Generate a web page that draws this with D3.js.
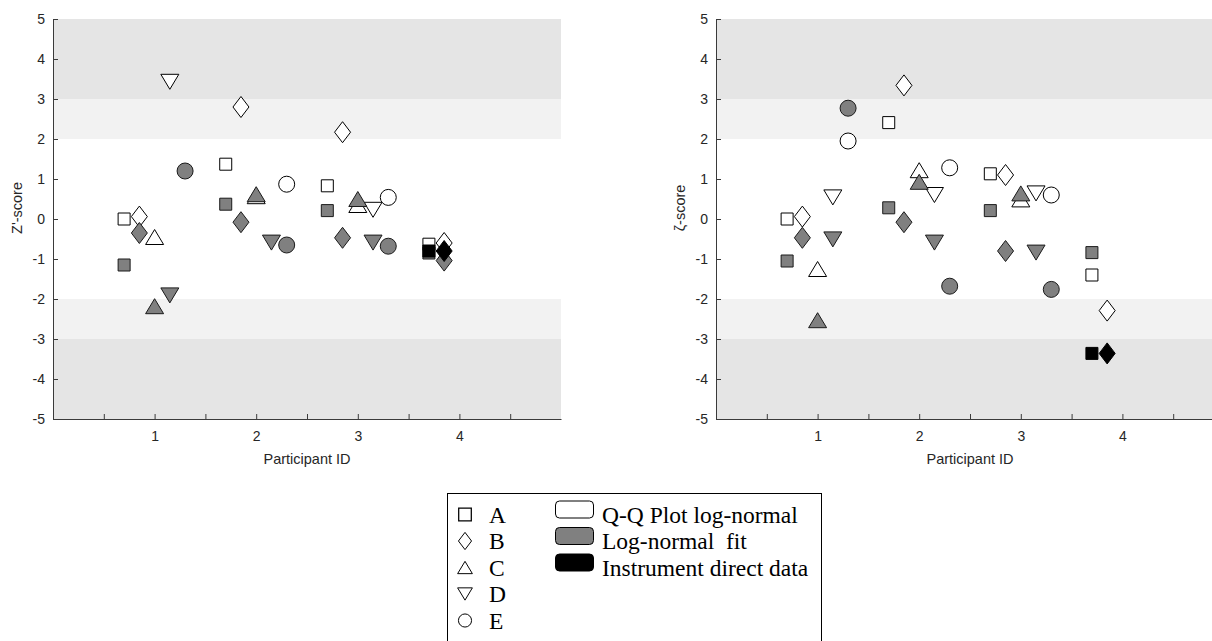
<!DOCTYPE html>
<html>
<head>
<meta charset="utf-8">
<script src="https://cdn.jsdelivr.net/npm/d3@7"></script>
<style>
  body { margin: 0; background: #fff; }
  svg { display: block; }
</style>
</head>
<body>
<script>
// participants and the five methods drawn around each participant
var participants = [1, 2, 3, 4];
var methods = ["A", "B", "C", "D", "E"];
var methodOffsets = [-0.3, -0.15, 0, 0.15, 0.3];

// Z'-score (left panel), one row per method, one value per participant
var zQQ = [[0, 1.37, 0.83, -0.63], [0.06, 2.8, 2.17, -0.6], [-0.45, 0.57, 0.35, null], [3.43, null, 0.23, null], [null, 0.87, 0.54, null]];
var zFit = [[-1.15, 0.37, 0.21, -0.85], [-0.35, -0.08, -0.47, -1.04], [-2.18, 0.62, 0.5, null], [-1.91, -0.59, -0.59, null], [1.2, -0.65, -0.68, null]];
var zDirect = [[null, null, null, -0.8], [null, null, null, -0.8], [null, null, null, null], [null, null, null, null], [null, null, null, null]];

// zeta-score (right panel)
var zetaQQ = [[0, 2.41, 1.13, -1.4], [0.06, 3.34, 1.1, -2.29], [-1.25, 1.22, 0.49, null], [0.54, 0.6, 0.64, null], [1.95, 1.28, 0.6, null]];
var zetaFit = [[-1.05, 0.28, 0.21, -0.84], [-0.47, -0.08, -0.8, null], [-2.53, 0.93, 0.64, null], [-0.51, -0.59, -0.84, null], [2.77, -1.68, -1.76, null]];
var zetaDirect = [[null, null, null, -3.36], [null, null, null, -3.36], [null, null, null, null], [null, null, null, null], [null, null, null, null]];

var yTicks = [-5, -4, -3, -2, -1, 0, 1, 2, 3, 4, 5];
var xTicks = [0.5, 1, 1.5, 2, 2.5, 3, 3.5, 4, 4.5];
var bands = [[3, 5, "#e5e5e5"], [2, 3, "#f2f2f2"], [-3, -2, "#f2f2f2"], [-5, -3, "#e5e5e5"]];

var legendSources = ["Q-Q Plot log-normal", "Log-normal  fit", "Instrument direct data"];
var sourceFills = ["#ffffff", "#808080", "#000000"];

var width = 1212, height = 641;

var svg = d3.select("body").append("svg")
  .attr("width", width)
  .attr("height", height)
  .style("font-family", "'Liberation Sans', Arial, sans-serif");

// marker shapes, fixed pixel sizes (matlab-ish)
var shapes = {
  A: { draw: function(c) { c.rect(-6, -6, 12, 12); } },
  B: { draw: function(c) { c.moveTo(0, -10.5); c.lineTo(8, 0); c.lineTo(0, 10.5); c.lineTo(-8, 0); c.closePath(); } },
  C: { draw: function(c) { c.moveTo(0, -7.5); c.lineTo(9, 7.5); c.lineTo(-9, 7.5); c.closePath(); } },
  D: { draw: function(c) { c.moveTo(0, 7.5); c.lineTo(9, -7.5); c.lineTo(-9, -7.5); c.closePath(); } },
  E: { draw: function(c) { c.moveTo(8, 0); c.arc(0, 0, 8, 0, 2 * Math.PI); } }
};

function panel(left, label, qq, fit, direct) {
  var x = d3.scaleLinear().domain([0, 5]).range([left, left + 508]);
  var y = d3.scaleLinear().domain([-5, 5]).range([419, 19]);
  var g = svg.append("g");

  g.selectAll("rect.band").data(bands).enter().append("rect")
    .attr("x", x(0)).attr("width", x(5) - x(0))
    .attr("y", function(d) { return y(d[1]); })
    .attr("height", function(d) { return y(d[0]) - y(d[1]); })
    .attr("fill", function(d) { return d[2]; });

  var yAxis = g.append("g")
    .attr("transform", "translate(" + x(0) + ",0)")
    .call(d3.axisLeft(y).tickValues(yTicks).tickSizeInner(-5).tickSizeOuter(0).tickPadding(8).tickFormat(String));
  var xAxis = g.append("g")
    .attr("transform", "translate(0," + y(-5) + ")")
    .call(d3.axisBottom(x).tickValues(xTicks).tickSizeInner(-5).tickSizeOuter(0).tickPadding(12)
      .tickFormat(function(d) { return d % 1 === 0 ? d : ""; }));
  [yAxis, xAxis].forEach(function(a) {
    a.select(".domain").attr("stroke", "#3a3a3a");
    a.selectAll(".tick line").attr("stroke", "#3a3a3a");
    a.selectAll("text").attr("fill", "#262626").style("font-size", "14px").style("font-family", "'Liberation Sans', Arial, sans-serif");
  });

  g.append("text")
    .attr("x", (x(0) + x(5)) / 2).attr("y", 464)
    .attr("text-anchor", "middle").attr("fill", "#262626").style("font-size", "14.5px")
    .text("Participant ID");
  g.append("text")
    .attr("transform", "translate(" + (x(0) - 36) + ",208) rotate(-90)")
    .attr("text-anchor", "middle").attr("dy", "0.35em").attr("fill", "#262626").style("font-size", "14.5px")
    .text(label);

  // open first, then grey, then black on top
  [qq, fit, direct].forEach(function(series, s) {
    var pts = [];
    series.forEach(function(row, m) {
      row.forEach(function(v, p) {
        if (v !== null) pts.push({ m: methods[m], x: participants[p] + methodOffsets[m], v: v });
      });
    });
    g.selectAll("path.s" + s).data(pts).enter().append("path")
      .attr("transform", function(d) { return "translate(" + x(d.x) + "," + y(d.v) + ")"; })
      .attr("d", function(d) { return d3.symbol().type(shapes[d.m])(); })
      .attr("fill", sourceFills[s])
      .attr("stroke", s === 1 ? "#1a1a1a" : "#000")
      .attr("stroke-width", 1);
  });
}

panel(53, "Z'-score", zQQ, zFit, zDirect);
panel(716, "\u03B6-score", zetaQQ, zetaFit, zetaDirect);

// legend
var lg = svg.append("g").style("font-family", "'Liberation Serif', 'Times New Roman', serif");
lg.append("rect").attr("x", 447.5).attr("y", 493.5).attr("width", 374).attr("height", 200)
  .attr("fill", "#fff").attr("stroke", "#000");

var rowY = d3.scaleLinear().domain([0, 1]).range([514.5, 541]);

methods.forEach(function(m, i) {
  lg.append("path")
    .attr("transform", "translate(465," + rowY(i) + ") scale(" + (m === "A" ? 1.05 : 0.82) + ")")
    .attr("d", d3.symbol().type(shapes[m])())
    .attr("fill", "none").attr("stroke", "#000").attr("stroke-width", 1.2);
  lg.append("text").attr("x", 489).attr("y", rowY(i)).attr("dy", "0.35em")
    .style("font-size", "23.5px").text(m);
});

legendSources.forEach(function(t, i) {
  lg.append("rect")
    .attr("x", 555.5).attr("y", rowY(i) - 13.5).attr("width", 38).attr("height", 17)
    .attr("rx", 4).attr("fill", sourceFills[i]).attr("stroke", "#000");
  lg.append("text").attr("x", 602).attr("y", rowY(i)).attr("dy", "0.35em")
    .style("font-size", "23.5px").style("white-space", "pre").text(t);
});
</script>
</body>
</html>
